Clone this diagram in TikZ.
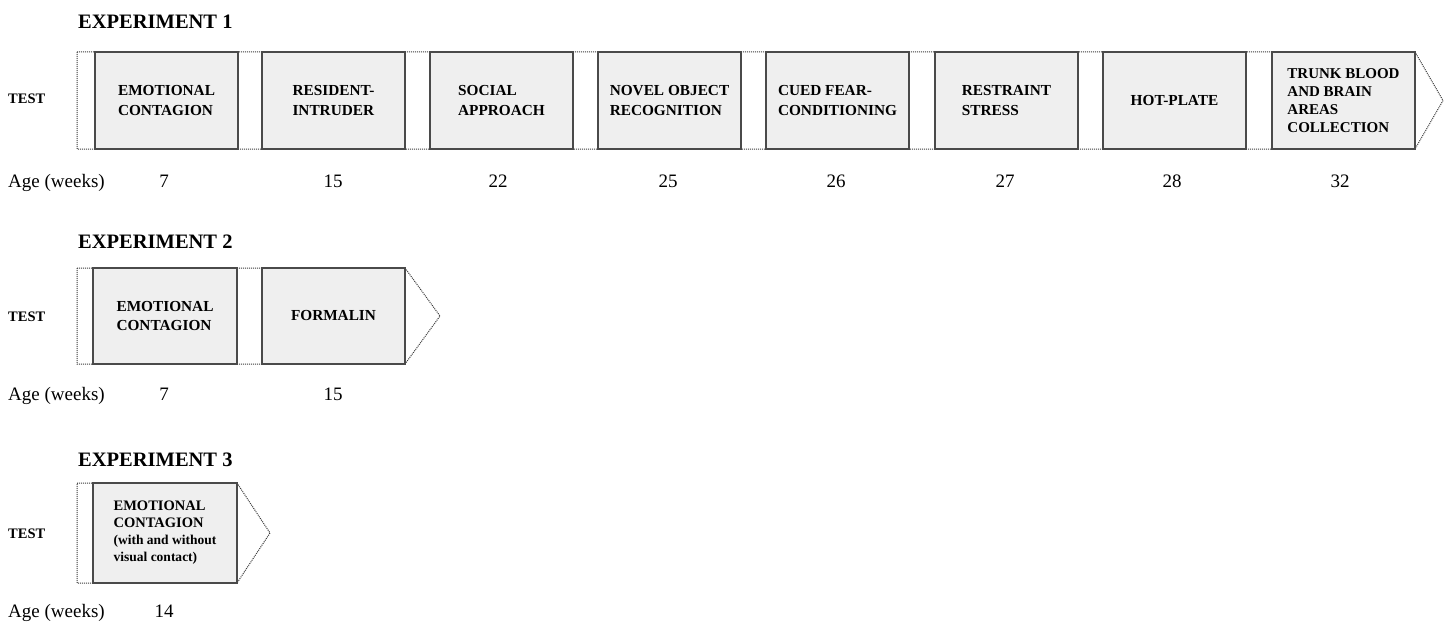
\documentclass[tikz,border=0pt]{standalone}
\usepackage{fontspec}
\setmainfont{Liberation Serif}
\definecolor{boxfill}{HTML}{EFEFEF}
\definecolor{edge}{HTML}{4A4A4A}
\definecolor{dotedge}{HTML}{3A3A3A}
\begin{document}
\begin{tikzpicture}[x=1pt,y=-1pt,
  stage/.style={draw=edge, fill=boxfill, line width=1.1pt, inner sep=0pt,
    minimum height=97pt, minimum width=143pt, align=left,
    font=\fontsize{15.3}{19.5}\selectfont\bfseries},
  small stage/.style={stage, font=\fontsize{14.5}{17}\selectfont\bfseries},
  band/.style={draw=dotedge, fill=white, line width=1pt, densely dotted},
  title/.style={anchor=base west, inner sep=0pt, font=\fontsize{20.5}{24}\selectfont\bfseries},
  testlbl/.style={anchor=base west, inner sep=0pt, font=\fontsize{14.5}{16}\selectfont\bfseries},
  agelbl/.style={anchor=base west, inner sep=0pt, font=\fontsize{19}{21}\selectfont},
  agenum/.style={anchor=base, inner sep=0pt, font=\fontsize{19}{21}\selectfont}
]
\useasboundingbox (0,0) rectangle (1450,623);

% ---------------- Experiment 1 ----------------
\node[title] (t1) at (78,29) {EXPERIMENT 1};
\node[testlbl] (test1) at (8,104) {TEST};
\draw[band] (77,52) -- (1415,52) -- (1443,100.5) -- (1415,149) -- (77,149) -- cycle;
\node[stage] (a1) at (166.5,100.5)  {EMOTIONAL\\CONTAGION};
\node[stage] (a2) at (333.5,100.5)  {RESIDENT-\\INTRUDER};
\node[stage] (a3) at (501.5,100.5)  {SOCIAL\\APPROACH};
\node[stage] (a4) at (669.5,100.5)  {NOVEL OBJECT\\RECOGNITION};
\node[stage] (a5) at (837.5,100.5)  {CUED FEAR-\\CONDITIONING};
\node[stage] (a6) at (1006.5,100.5) {RESTRAINT\\STRESS};
\node[stage] (a7) at (1174.5,100.5) {HOT-PLATE};
\node[stage, font=\fontsize{15}{18}\selectfont\bfseries] (a8) at (1343.5,100.5) {TRUNK BLOOD\\AND BRAIN\\AREAS\\COLLECTION};
\node[agelbl] (age1) at (8,187) {Age (weeks)};
\node[agenum] (n11) at (164,187)  {7};
\node[agenum] (n12) at (333,187)  {15};
\node[agenum] (n13) at (498,187)  {22};
\node[agenum] (n14) at (668,187)  {25};
\node[agenum] (n15) at (836,187)  {26};
\node[agenum] (n16) at (1005,187) {27};
\node[agenum] (n17) at (1172,187) {28};
\node[agenum] (n18) at (1340,187) {32};

% ---------------- Experiment 2 ----------------
\node[title] (t2) at (78,248) {EXPERIMENT 2};
\node[testlbl] (test2) at (8,321) {TEST};
\draw[band] (77,268) -- (405,268) -- (440,316) -- (405,364) -- (77,364) -- cycle;
\node[stage, minimum height=96pt, minimum width=144pt] (b1) at (165,316) {EMOTIONAL\\CONTAGION};
\node[stage, minimum height=96pt] (b2) at (333.5,316) {FORMALIN};
\node[agelbl] (age2) at (8,400) {Age (weeks)};
\node[agenum] (n21) at (164,400) {7};
\node[agenum] (n22) at (333,400) {15};

% ---------------- Experiment 3 ----------------
\node[title] (t3) at (78,466) {EXPERIMENT 3};
\node[testlbl] (test3) at (8,538) {TEST};
\draw[band] (77,483) -- (237,483) -- (270,533) -- (237,583) -- (77,583) -- cycle;
\node[small stage, minimum height=100pt, minimum width=144pt] (c1) at (165,533)
  {EMOTIONAL\\CONTAGION\\{\fontsize{13.5}{17}\selectfont(with and without}\\{\fontsize{13.5}{17}\selectfont visual contact)}};
\node[agelbl] (age3) at (8,617) {Age (weeks)};
\node[agenum] (n31) at (164,617) {14};
\end{tikzpicture}
\end{document}
